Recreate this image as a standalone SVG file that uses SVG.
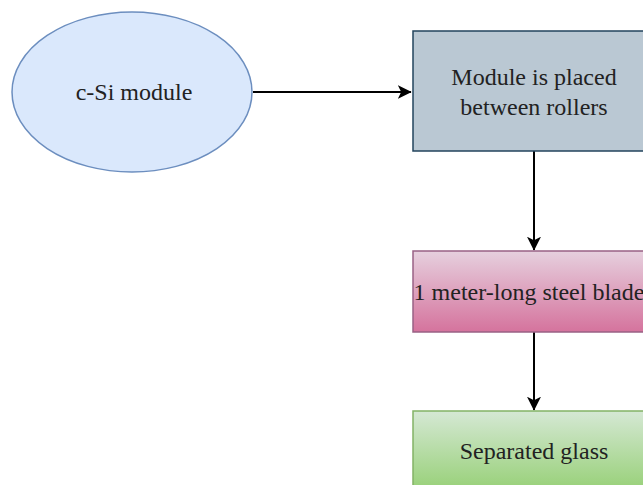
<svg xmlns="http://www.w3.org/2000/svg" width="643" height="485" viewBox="0 0 643 485">
<style>
.lbl{font-family:"Liberation Serif","Times New Roman",serif;font-size:24px;fill:#222;text-anchor:middle;dominant-baseline:central}
.edge{stroke:#000;stroke-width:2;fill:none}
</style>
<defs>
<marker id="arr" viewBox="0 0 10 10" refX="9.5" refY="5" markerWidth="14" markerHeight="14" markerUnits="userSpaceOnUse" orient="auto">
<path d="M0,0 L10,5 L0,10 L2.5,5 Z" fill="#000"/>
</marker>
<linearGradient id="gPink" x1="0" y1="0" x2="0" y2="1">
<stop offset="0" stop-color="#e6d0de"/>
<stop offset="1" stop-color="#d5739d"/>
</linearGradient>
<linearGradient id="gGreen" x1="0" y1="0" x2="0" y2="1">
<stop offset="0" stop-color="#d5e8d4"/>
<stop offset="1" stop-color="#97d077"/>
</linearGradient>
</defs>
<rect width="643" height="485" fill="#fff"/>
<g id="connectors">
<path class="edge" d="M253,92 L411,92" marker-end="url(#arr)"/>
<path class="edge" d="M534,151 L534,250" marker-end="url(#arr)"/>
<path class="edge" d="M534,332 L534,410" marker-end="url(#arr)"/>
</g>
<g id="node-csi">
<ellipse cx="132" cy="92" rx="120" ry="80" fill="#dae8fc" stroke="#6c8ebf" stroke-width="1.5"/>
<text class="lbl" x="134" y="92">c-Si module</text>
</g>
<g id="node-rollers">
<rect x="413" y="31" width="242" height="120" fill="#bac8d3" stroke="#23445d" stroke-width="1.5"/>
<text class="lbl" x="534" y="77">Module is placed</text>
<text class="lbl" x="534" y="107">between rollers</text>
</g>
<g id="node-blade">
<rect x="413" y="251" width="242" height="81" fill="url(#gPink)" stroke="#996185" stroke-width="1.5"/>
<text class="lbl" x="529" y="292">1 meter-long steel blade</text>
</g>
<g id="node-glass">
<rect x="413" y="411" width="242" height="80" fill="url(#gGreen)" stroke="#82b366" stroke-width="1.5"/>
<text class="lbl" x="534" y="451">Separated glass</text>
</g>
</svg>
